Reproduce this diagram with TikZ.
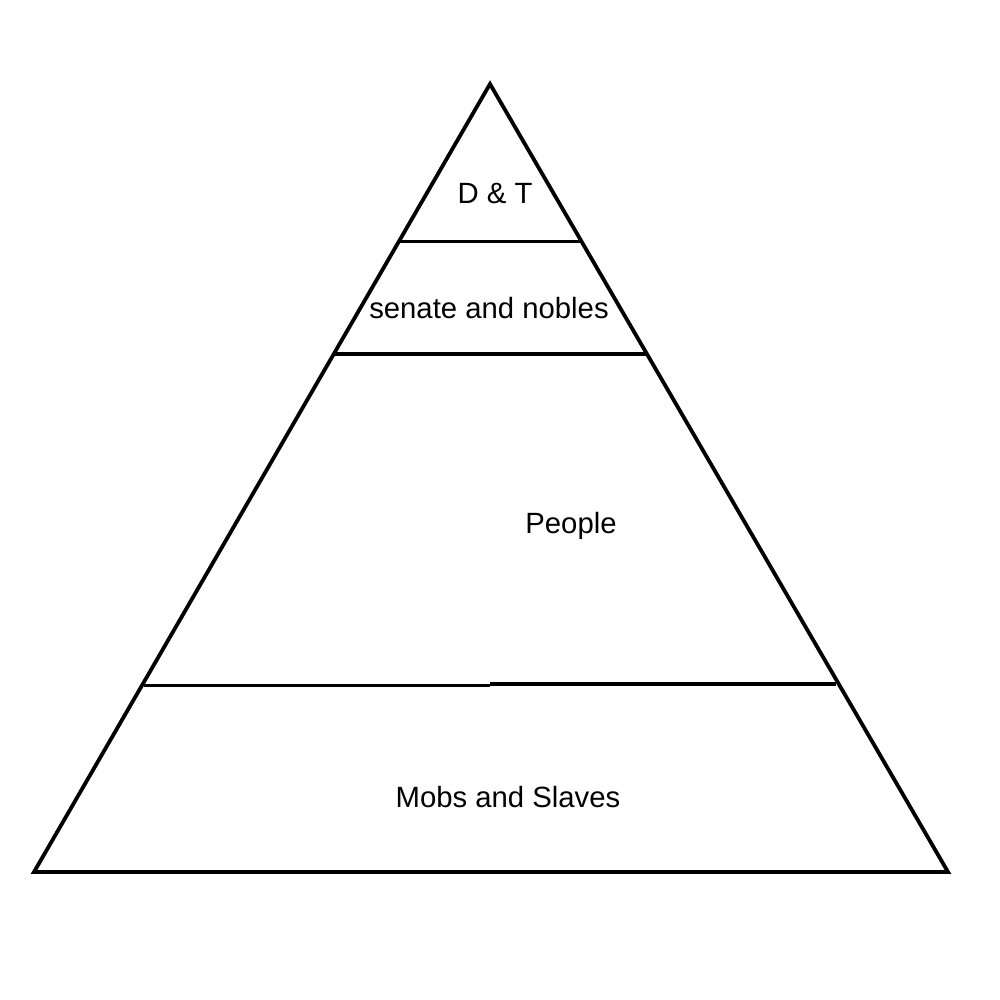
\documentclass[tikz,border=0pt]{standalone}
\usepackage{fontspec}
\setmainfont{Liberation Sans}
\begin{document}
\begin{tikzpicture}[x=1pt,y=-1pt,
  edge/.style={line width=3.8pt, line join=miter},
  lbl/.style={anchor=base, inner sep=0pt, font=\fontsize{29.3}{34}\selectfont}]
\useasboundingbox (0,0) rectangle (1000,1000);
\coordinate (apex) at (490,84);
\coordinate (bl) at (34,872);
\coordinate (br) at (948,872);
\coordinate (l1) at (399.5,241.5);
\coordinate (r1) at (581,241.5);
\coordinate (l2) at (334.5,354);
\coordinate (r2) at (646.5,354);
\coordinate (l3) at (143.5,685.5);
\coordinate (m3a) at (490,685.5);
\coordinate (m3b) at (490,684);
\coordinate (r3) at (836,684);
\draw[edge] (apex) -- (br) -- (bl) -- cycle;
\draw[edge] (l1) -- (r1);
\draw[edge] (l2) -- (r2);
\draw[edge] (l3) -- (m3a);
\draw[edge] (m3b) -- (r3);
\node[lbl] (dt) at (495,204) {D \& T};
\node[lbl] (sen) at (489,318) {senate and nobles};
\node[lbl] (peo) at (571,533) {People};
\node[lbl] (mob) at (508,807) {Mobs and Slaves};
\end{tikzpicture}
\end{document}
